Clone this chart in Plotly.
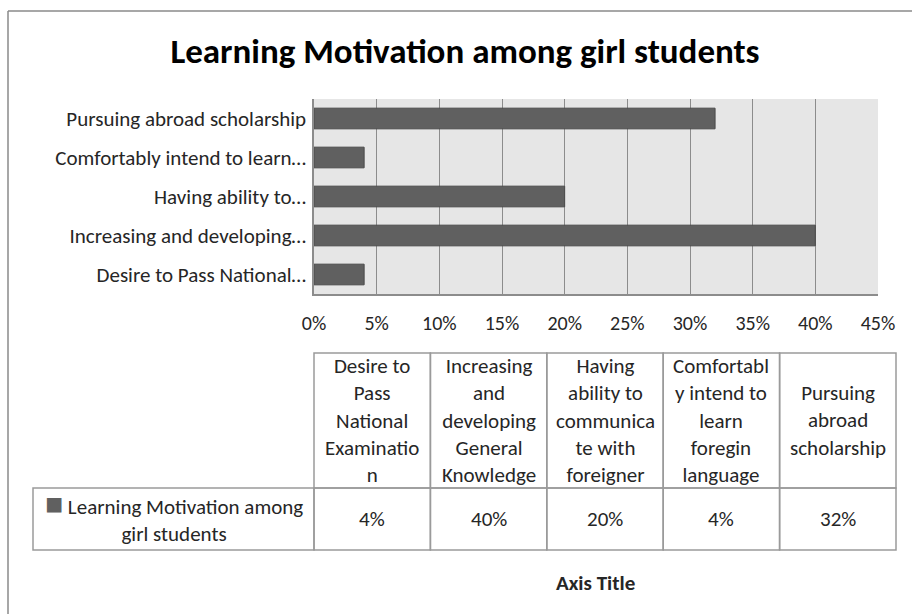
import plotly.graph_objects as go

# ---------------- data ----------------
axis_labels = [
    "Desire to Pass National…",
    "Increasing and developing…",
    "Having ability to…",
    "Comfortably intend to learn…",
    "Pursuing abroad scholarship",
]
table_headers = [
    "Desire to<br>Pass<br>National<br>Examinatio<br>n",
    "Increasing<br>and<br>developing<br>General<br>Knowledge",
    "Having<br>ability to<br>communica<br>te with<br>foreigner",
    "Comfortabl<br>y intend to<br>learn<br>foregin<br>language",
    "Pursuing<br>abroad<br>scholarship",
]
values = [0.04, 0.40, 0.20, 0.04, 0.32]
series_name = "Learning Motivation among girl students"
x_ticks = [0, 0.05, 0.10, 0.15, 0.20, 0.25, 0.30, 0.35, 0.40, 0.45]

# ---------------- layout constants (pixels) ----------------
W, H = 912, 614
PL, PR, PT, PB = 314, 878, 99, 294          # plot area
TL, COLW = 314, 116.4                       # table left, column width
HT, HB, RB = 353, 488, 550                  # header top, header bottom, row bottom
LEGL = 33                                   # legend cell left
FONT = "Carlito, Lato, sans-serif"
BAR = "#606060"
LINE = "#9a9a9a"
TXT = "#262626"

def px(x):
    return x / W

def py(y):
    return 1 - y / H

fig = go.Figure()
fig.add_trace(go.Bar(
    x=values, y=axis_labels, orientation="h", name=series_name,
    marker=dict(color=BAR, line=dict(color="#4a4a4a", width=1)),
    showlegend=False,
))

shapes = []
annotations = []

# outer chart border (top and left edges visible; kept inside the page)
shapes.append(dict(type="line", xref="paper", yref="paper",
                   x0=px(8), x1=1, y0=py(11), y1=py(11),
                   line=dict(color="#8a8a8a", width=1.5), layer="below"))
shapes.append(dict(type="line", xref="paper", yref="paper",
                   x0=px(8), x1=px(8), y0=py(11), y1=0,
                   line=dict(color="#8a8a8a", width=1.5), layer="below"))

# table: header cells and value cells
for i, (hdr, v) in enumerate(zip(table_headers, values)):
    x0 = TL + i * COLW
    x1 = x0 + COLW
    shapes.append(dict(type="rect", xref="paper", yref="paper",
                       x0=px(x0), x1=px(x1), y0=py(HT), y1=py(HB),
                       line=dict(color=LINE, width=1.5)))
    shapes.append(dict(type="rect", xref="paper", yref="paper",
                       x0=px(x0), x1=px(x1), y0=py(HB), y1=py(RB),
                       line=dict(color=LINE, width=1.5)))
    annotations.append(dict(xref="paper", yref="paper", x=px((x0 + x1) / 2), y=py((HT + HB) / 2),
                            text=hdr, showarrow=False, xanchor="center", yanchor="middle",
                            align="center", font=dict(family=FONT, size=21, color=TXT)))
    annotations.append(dict(xref="paper", yref="paper", x=px((x0 + x1) / 2), y=py((HB + RB) / 2),
                            text=f"{v:.0%}", showarrow=False, xanchor="center", yanchor="middle",
                            align="center", font=dict(family=FONT, size=21, color=TXT)))

# legend cell
shapes.append(dict(type="rect", xref="paper", yref="paper",
                   x0=px(LEGL), x1=px(TL), y0=py(HB), y1=py(RB),
                   line=dict(color=LINE, width=1.5)))
annotations.append(dict(xref="paper", yref="paper", x=px((LEGL + TL) / 2), y=py((HB + RB) / 2 - 3),
                        text=f"<span style='color:{BAR};font-size:30px'>■</span> Learning Motivation among<br>girl students",
                        showarrow=False, xanchor="center", yanchor="middle", align="center",
                        font=dict(family=FONT, size=21, color=TXT)))

# axis title
annotations.append(dict(xref="paper", yref="paper", x=px(595), y=py(583),
                        text="<b>Axis Title</b>", showarrow=False, xanchor="center", yanchor="middle",
                        font=dict(family=FONT, size=21, color=TXT)))

fig.update_layout(
    width=W, height=H, autosize=False,
    margin=dict(l=0, r=0, t=0, b=0, pad=0, autoexpand=False),
    paper_bgcolor="white",
    plot_bgcolor="#e6e6e6",
    bargap=0.47,
    title=dict(text="<b>Learning Motivation among girl students</b>",
               x=px(465), y=py(51), xanchor="center", yanchor="middle",
               font=dict(family=FONT, size=35, color="#000000")),
    xaxis=dict(domain=[px(PL), px(PR)], range=[0, 0.45], tickvals=x_ticks, tickformat=".0%",
               automargin=False,
               showgrid=True, gridcolor="#8c8c8c", gridwidth=1,
               showline=True, linecolor="#8c8c8c", linewidth=1.5,
               zeroline=False, ticks="", ticklabelstandoff=10,
               tickfont=dict(family=FONT, size=20, color=TXT), fixedrange=True),
    yaxis=dict(domain=[py(PB), py(PT)], showgrid=False, automargin=False,
               showline=True, linecolor="#8c8c8c", linewidth=1.5,
               ticks="", ticklabelstandoff=2,
               tickfont=dict(family=FONT, size=21, color=TXT), fixedrange=True),
    shapes=shapes,
    annotations=annotations,
)

fig.write_html(
    "out.html",
    config={"displayModeBar": False, "responsive": False},
    post_script="document.body.style.margin='0';document.body.style.overflow='hidden';",
)
